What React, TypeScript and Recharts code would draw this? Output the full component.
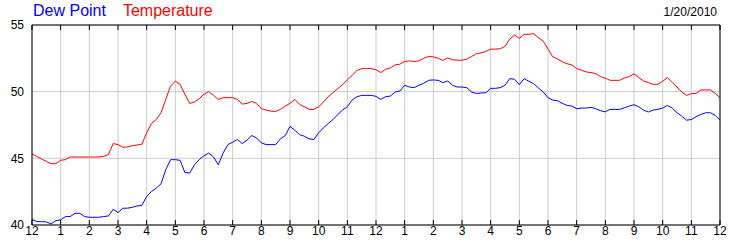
import React from 'react';
import { LineChart, Line, XAxis, YAxis, CartesianGrid, Legend } from 'recharts';

const minutes = [
  0, 10, 20, 30, 40, 50, 60, 70, 80, 90, 100, 110,
  120, 130, 140, 150, 160, 170, 180, 190, 200, 210, 220, 230,
  240, 250, 260, 270, 280, 290, 300, 310, 320, 330, 340, 350,
  360, 370, 380, 390, 400, 410, 420, 430, 440, 450, 460, 470,
  480, 490, 500, 510, 520, 530, 540, 550, 560, 570, 580, 590,
  600, 610, 620, 630, 640, 650, 660, 670, 680, 690, 700, 710,
  720, 730, 740, 750, 760, 770, 780, 790, 800, 810, 820, 830,
  840, 850, 860, 870, 880, 890, 900, 910, 920, 930, 940, 950,
  960, 970, 980, 990, 1000, 1010, 1020, 1030, 1040, 1050, 1060, 1070,
  1080, 1090, 1100, 1110, 1120, 1130, 1140, 1150, 1160, 1170, 1180, 1190,
  1200, 1210, 1220, 1230, 1240, 1250, 1260, 1270, 1280, 1290, 1300, 1310,
  1320, 1330, 1340, 1350, 1360, 1370, 1380, 1390, 1400, 1410, 1420, 1430,
  1440,
];

const temperature = [
  45.33, 45.15, 44.95, 44.77, 44.6, 44.6, 44.85, 44.9, 45.1, 45.1, 45.1, 45.1,
  45.1, 45.1, 45.1, 45.15, 45.28, 46.11, 46.03, 45.83, 45.85, 45.95, 46.0, 46.06,
  46.91, 47.61, 47.91, 48.42, 49.42, 50.43, 50.78, 50.55, 49.8, 49.12, 49.22, 49.47,
  49.81, 50.0, 49.72, 49.42, 49.55, 49.55, 49.55, 49.42, 49.07, 49.12, 49.27, 49.12,
  48.72, 48.62, 48.54, 48.52, 48.67, 48.92, 49.12, 49.42, 49.05, 48.87, 48.67, 48.67,
  48.87, 49.22, 49.62, 49.92, 50.23, 50.53, 50.88, 51.23, 51.58, 51.73, 51.73, 51.73,
  51.65, 51.43, 51.68, 51.78, 52.01, 52.06, 52.26, 52.31, 52.26, 52.31, 52.51, 52.64,
  52.61, 52.51, 52.34, 52.54, 52.39, 52.36, 52.36, 52.44, 52.64, 52.84, 52.91, 53.02,
  53.19, 53.19, 53.22, 53.39, 53.94, 54.25, 53.99, 54.3, 54.3, 54.35, 54.05, 53.79,
  53.2, 52.61, 52.46, 52.24, 52.09, 52.01, 51.73, 51.61, 51.48, 51.43, 51.36, 51.13,
  51.01, 50.85, 50.85, 50.85, 51.03, 51.13, 51.33, 51.06, 50.8, 50.68, 50.55, 50.55,
  50.78, 51.06, 50.68, 50.35, 49.97, 49.72, 49.85, 49.87, 50.13, 50.13, 50.13, 49.87,
  49.55,
];

const dewPoint = [
  40.43, 40.25, 40.25, 40.23, 40.08, 40.33, 40.38, 40.63, 40.63, 40.88, 40.88, 40.63,
  40.58, 40.58, 40.58, 40.63, 40.68, 41.18, 40.93, 41.26, 41.26, 41.33, 41.43, 41.48,
  42.14, 42.51, 42.76, 43.09, 44.15, 44.9, 44.9, 44.85, 43.94, 43.89, 44.52, 44.9,
  45.2, 45.4, 45.1, 44.52, 45.4, 46.03, 46.21, 46.41, 46.11, 46.36, 46.71, 46.53,
  46.16, 46.03, 46.03, 46.03, 46.46, 46.71, 47.4, 47.1, 46.78, 46.66, 46.46, 46.41,
  46.91, 47.29, 47.61, 47.91, 48.29, 48.62, 48.87, 49.37, 49.62, 49.72, 49.72, 49.72,
  49.65, 49.42, 49.62, 49.67, 49.97, 50.05, 50.48, 50.35, 50.3, 50.48, 50.63, 50.85,
  50.88, 50.85, 50.68, 50.8, 50.48, 50.35, 50.35, 50.3, 49.97, 49.87, 49.9, 49.92,
  50.25, 50.25, 50.3, 50.48, 50.98, 50.93, 50.53, 50.98, 50.78, 50.6, 50.28, 49.97,
  49.55, 49.37, 49.32, 49.12, 48.97, 48.92, 48.72, 48.77, 48.77, 48.82, 48.72, 48.57,
  48.49, 48.67, 48.67, 48.67, 48.79, 48.92, 49.02, 48.87, 48.62, 48.47, 48.62, 48.67,
  48.77, 48.97, 48.77, 48.42, 48.17, 47.86, 47.91, 48.12, 48.29, 48.42, 48.42, 48.22,
  47.86,
];

const hourTicks = [0, 60, 120, 180, 240, 300, 360, 420, 480, 540, 600, 660, 720, 780, 840, 900, 960, 1020, 1080, 1140, 1200, 1260, 1320, 1380, 1440];
const hourLabels = ['12', '1', '2', '3', '4', '5', '6', '7', '8', '9', '10', '11', '12', '1', '2', '3', '4', '5', '6', '7', '8', '9', '10', '11', '12'];
const yTicks = [40, 45, 50, 55];
const dateLabel = '1/20/2010';

const data = minutes.map((m, i) => ({ m, dew: dewPoint[i], temp: temperature[i] }));

const FONT = '"Liberation Sans", Arial, sans-serif';
const tickStyle = { fontSize: 12, fontFamily: FONT, fill: '#000' };

const fmtHour = (v: number) => {
  const idx = hourTicks.indexOf(v);
  return idx >= 0 ? hourLabels[idx] : '';
};
const empty = () => '';

const renderLegend = (props: any) => {
  const { payload } = props;
  return (
    <div style={{ fontFamily: FONT, fontSize: 16, lineHeight: '16px', whiteSpace: 'nowrap' }}>
      {(payload || []).map((p: any, i: number) => (
        <span key={i} style={{ color: p.color, marginRight: 17 }}>{p.value}</span>
      ))}
    </div>
  );
};

export default function App() {
  return (
    <div style={{ position: 'absolute', left: 0, top: 0, width: 750, height: 250 }}>
      <LineChart width={750} height={250} data={data} margin={{ top: 25, right: 0, bottom: 0, left: 0 }}>
        <CartesianGrid stroke="#cccccc" />
        <XAxis
          dataKey="m"
          type="number"
          domain={[0, 1440]}
          ticks={hourTicks}
          tickFormatter={fmtHour}
          height={25}
          tickLine={false}
          tickSize={0}
          tickMargin={1}
          axisLine={{ stroke: '#000' }}
          tick={tickStyle}
          interval={0}
        />
        <XAxis
          xAxisId="bm"
          dataKey="m"
          type="number"
          domain={[0, 1440]}
          ticks={hourTicks}
          tickFormatter={empty}
          mirror
          tickSize={5}
          axisLine={false}
          tickLine={{ stroke: '#000' }}
          interval={0}
        />
        <XAxis
          xAxisId="tm"
          orientation="top"
          dataKey="m"
          type="number"
          domain={[0, 1440]}
          ticks={hourTicks}
          tickFormatter={empty}
          mirror
          tickSize={5}
          axisLine={{ stroke: '#000' }}
          tickLine={{ stroke: '#000' }}
          interval={0}
        />
        <YAxis
          domain={[40, 55]}
          ticks={yTicks}
          width={32}
          tickLine={false}
          tickSize={6}
          tickMargin={2}
          axisLine={{ stroke: '#000' }}
          tick={tickStyle}
          interval={0}
          allowDataOverflow
        />
        <YAxis
          yAxisId="lm"
          domain={[40, 55]}
          ticks={yTicks}
          mirror
          tickSize={5}
          tickFormatter={empty}
          axisLine={false}
          tickLine={{ stroke: '#000' }}
          interval={0}
        />
        <YAxis
          yAxisId="r"
          orientation="right"
          domain={[40, 55]}
          ticks={yTicks}
          width={30}
          tickLine={false}
          tickSize={6}
          tickMargin={2}
          axisLine={{ stroke: '#000' }}
          tick={tickStyle}
          interval={0}
        />
        <YAxis
          yAxisId="rm"
          orientation="right"
          domain={[40, 55]}
          ticks={yTicks}
          mirror
          tickSize={5}
          tickFormatter={empty}
          axisLine={false}
          tickLine={{ stroke: '#000' }}
          interval={0}
        />
        <Legend
          layout="horizontal"
          verticalAlign="middle"
          align="center"
          wrapperStyle={{ top: 3, left: 33, width: 300 }}
          content={renderLegend}
        />
        <Line
          name="Dew Point"
          dataKey="dew"
          type="linear"
          stroke="#0000ff"
          strokeWidth={1}
          dot={false}
          activeDot={false}
          isAnimationActive={false}
        />
        <Line
          name="Temperature"
          dataKey="temp"
          type="linear"
          stroke="#ff0000"
          strokeWidth={1}
          dot={false}
          activeDot={false}
          isAnimationActive={false}
        />
      </LineChart>
      <div
        style={{
          position: 'absolute',
          top: 6,
          right: 33,
          fontFamily: FONT,
          fontSize: 12,
          lineHeight: '12px',
          color: '#000',
          whiteSpace: 'nowrap',
        }}
      >
        {dateLabel}
      </div>
    </div>
  );
}
